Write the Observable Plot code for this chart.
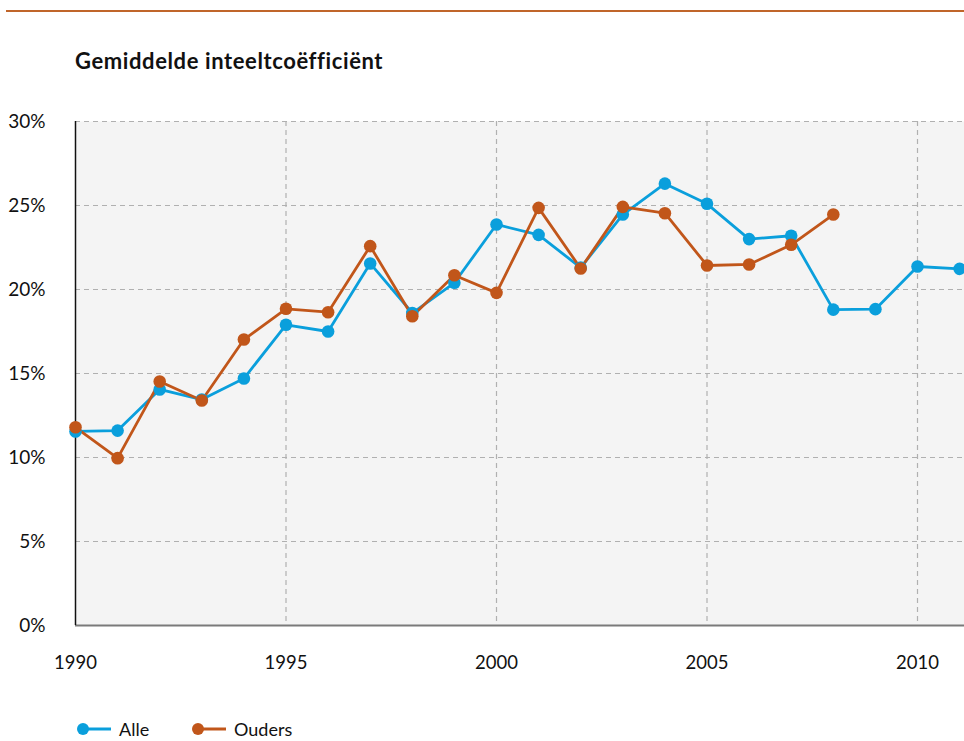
<!DOCTYPE html>
<html>
<head>
<meta charset="utf-8">
<script src="https://cdn.jsdelivr.net/npm/d3@7"></script>
<script src="https://cdn.jsdelivr.net/npm/@observablehq/plot@0.6"></script>
<style>
  html, body { margin: 0; padding: 0; background: #fff; }
  body { width: 964px; height: 741px; overflow: hidden; font-family: Lato, "Open Sans", sans-serif; color: #111; }
  #header { position: relative; height: 100px; }
  #rule { position: absolute; left: 6px; right: 0; top: 10px; height: 2px; background: #c0652a; }
  #title { position: absolute; left: 75px; top: 48px; font-size: 22px; line-height: 26px; font-weight: 700; letter-spacing: 0.6px; white-space: nowrap; }
  #chart svg { display: block; }
  #legend { position: relative; height: 61px; font-size: 18px; }
  .item { position: absolute; top: 39px; height: 20px; line-height: 20px; display: flex; align-items: center; white-space: nowrap; }
  .item svg { margin-right: 8px; }
</style>
</head>
<body>
<div id="header"><div id="rule"></div><div id="title">Gemiddelde inteeltcoëfficiënt</div></div>
<div id="chart"></div>
<div id="legend"></div>
<script>
const years = d3.range(1990, 2012);
const alle = [11.55, 11.6, 14.05, 13.45, 14.7, 17.9, 17.5, 21.55, 18.6, 20.4, 23.87, 23.25, 21.3, 24.46, 26.3, 25.1, 23.0, 23.2, 18.8, 18.83, 21.37, 21.23];
const ouders = [11.8, 9.96, 14.52, 13.39, 17.02, 18.85, 18.65, 22.58, 18.41, 20.85, 19.8, 24.86, 21.25, 24.92, 24.54, 21.43, 21.49, 22.66, 24.46];
const seriesNames = ["Alle", "Ouders"];
const seriesColors = ["#0a9fdc", "#c1561a"];
const yTicks = [0, 5, 10, 15, 20, 25, 30];
const xTicks = [1990, 1995, 2000, 2005, 2010];

const data = [
  ...alle.map((v, i) => ({year: years[i], value: v, series: "Alle"})),
  ...ouders.map((v, i) => ({year: years[i], value: v, series: "Ouders"}))
];

const grid = {stroke: "#b0b0b0", strokeOpacity: 1, strokeWidth: 1.2, strokeDasharray: "5,4"};

const chart = Plot.plot({
  width: 964,
  height: 580,
  marginTop: 21,
  marginBottom: 55,
  marginLeft: 75,
  marginRight: 0,
  style: {fontFamily: "Lato, 'Open Sans', sans-serif", fontSize: "18px", color: "#111", background: "transparent", overflow: "hidden"},
  x: {domain: [1990, 1990 + 889 / 42.1], label: null},
  y: {domain: [0, 30], label: null},
  color: {domain: seriesNames, range: seriesColors},
  marks: [
    Plot.frame({fill: "#f4f4f4", stroke: null}),
    Plot.gridY(yTicks.filter(d => d > 0), grid),
    Plot.gridX(xTicks.filter(d => d > 1990), grid),
    Plot.ruleY([0], {stroke: "#7a7a7a", strokeWidth: 2}),
    Plot.ruleX([1990], {stroke: "#111", strokeWidth: 1.5}),
    Plot.axisY(yTicks, {tickSize: 0, tickPadding: 30, tickFormat: d => d + "%", fontSize: 19, label: null}),
    Plot.axisX(xTicks, {tickSize: 0, tickPadding: 30, tickFormat: d => String(d), fontSize: 18.5, label: null}),
    Plot.line(data, {x: "year", y: "value", z: "series", stroke: "series", strokeWidth: 2.8, curve: "linear"}),
    Plot.dot(data, {x: "year", y: "value", fill: "series", r: 6.3, stroke: null})
  ]
});
document.getElementById("chart").appendChild(chart);

const legend = document.getElementById("legend");
const lefts = [83, 198];
seriesNames.forEach((name, i) => {
  const item = document.createElement("div");
  item.className = "item";
  item.style.left = (lefts[i] - 6) + "px";
  item.innerHTML = `<svg width="34" height="16"><line x1="6" y1="8" x2="34" y2="8" stroke="${seriesColors[i]}" stroke-width="3"/><circle cx="6" cy="8" r="6" fill="${seriesColors[i]}"/></svg><span>${name}</span>`;
  legend.appendChild(item);
});
</script>
</body>
</html>
